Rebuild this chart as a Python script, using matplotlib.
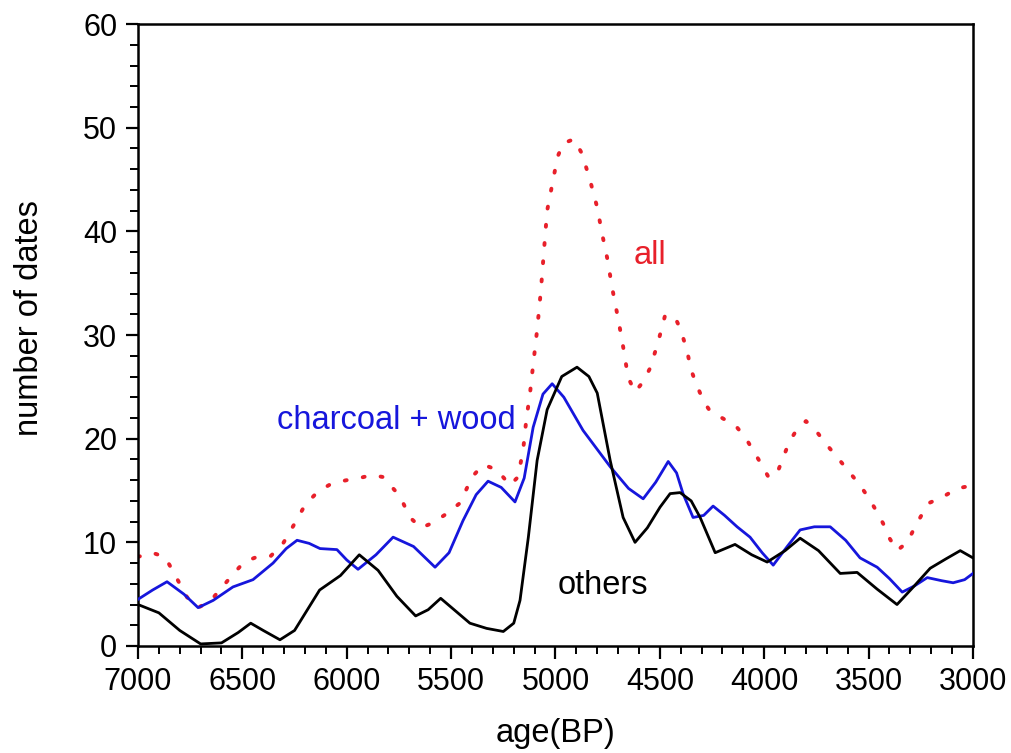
import matplotlib
matplotlib.use("Agg")
import matplotlib.pyplot as plt
from matplotlib.ticker import MultipleLocator

plt.rcParams['font.family'] = ['Liberation Sans', 'DejaVu Sans']

# ---- data ----
others_age = [7000, 6900, 6800, 6700, 6600, 6520, 6460, 6400, 6320, 6250, 6130, 6030, 5940,
              5850, 5760, 5670, 5610, 5550, 5480, 5410, 5330, 5250, 5200, 5170, 5130, 5088,
              5040, 4970, 4897, 4840, 4800, 4738, 4676, 4619, 4560, 4499, 4451, 4403, 4350,
              4307, 4235, 4140, 4060, 3986, 3900, 3828, 3740, 3636, 3555, 3460, 3364, 3290,
              3205, 3130, 3061, 3000]
others_val = [4.0, 3.2, 1.5, 0.2, 0.3, 1.3, 2.2, 1.5, 0.6, 1.5, 5.4, 6.8, 8.8,
              7.3, 4.8, 2.9, 3.5, 4.6, 3.4, 2.2, 1.7, 1.4, 2.2, 4.4, 10.5, 17.9,
              22.8, 26.0, 26.9, 26.0, 24.4, 17.9, 12.4, 10.0, 11.4, 13.4, 14.7, 14.8, 14.0,
              12.4, 9.0, 9.8, 8.8, 8.1, 9.2, 10.4, 9.2, 7.0, 7.1, 5.5, 4.0, 5.6,
              7.5, 8.4, 9.2, 8.5]

charcoal_age = [7000, 6930, 6861, 6780, 6712, 6640, 6545, 6449, 6353, 6290, 6238, 6180, 6128,
                6047, 6000, 5946, 5860, 5778, 5680, 5577, 5510, 5443, 5380, 5323, 5260, 5194,
                5150, 5107, 5060, 5016, 4960, 4868, 4738, 4650, 4580, 4520, 4460, 4420, 4389,
                4341, 4290, 4245, 4190, 4130, 4068, 4010, 3957, 3890, 3828, 3760, 3684, 3610,
                3541, 3459, 3400, 3339, 3280, 3219, 3150, 3095, 3040, 3000]
charcoal_val = [4.5, 5.4, 6.2, 5.0, 3.7, 4.4, 5.7, 6.4, 8.0, 9.4, 10.2, 9.9, 9.4,
                9.3, 8.3, 7.4, 8.8, 10.5, 9.6, 7.6, 9.0, 12.1, 14.6, 15.9, 15.3, 13.9,
                16.2, 21.1, 24.3, 25.3, 24.0, 20.8, 17.3, 15.2, 14.2, 15.8, 17.8, 16.7, 14.7,
                12.4, 12.6, 13.5, 12.6, 11.5, 10.5, 9.0, 7.8, 9.6, 11.2, 11.5, 11.5, 10.2,
                8.5, 7.6, 6.5, 5.2, 5.8, 6.6, 6.3, 6.1, 6.4, 7.0]

all_age = [7000, 6933, 6871, 6832, 6800, 6765, 6712, 6655, 6600, 6550, 6492, 6430, 6363,
           6305, 6270, 6233, 6200, 6138, 6070, 6000, 5940, 5879, 5826, 5769, 5730, 5697,
           5644, 5586, 5519, 5457, 5400, 5347, 5280, 5218, 5180, 5155, 5140, 5122, 5110,
           5088, 5070, 5055, 5040, 5015, 4990, 4963, 4911, 4873, 4834, 4800, 4777, 4750,
           4729, 4705, 4681, 4652, 4619, 4580, 4547, 4510, 4475, 4427, 4400, 4370, 4350,
           4320, 4290, 4264, 4202, 4135, 4090, 4048, 4010, 3977, 3930, 3880, 3840, 3800,
           3746, 3700, 3646, 3593, 3541, 3500, 3459, 3430, 3400, 3364, 3315, 3280, 3250,
           3210, 3143, 3076, 3000]
all_val = [8.6, 9.0, 8.6, 7.2, 6.0, 4.7, 3.7, 4.3, 5.6, 6.8, 8.1, 8.6, 8.7,
           9.9, 11.1, 12.4, 13.6, 14.9, 15.7, 16.0, 16.2, 16.5, 16.3, 15.0, 13.8, 12.4,
           11.4, 11.9, 12.8, 13.8, 16.3, 17.5, 17.0, 15.5, 16.3, 18.9, 21.8, 24.4, 26.6,
           30.5, 34.3, 38.2, 42.0, 44.6, 47.2, 48.5, 48.9, 47.5, 44.9, 42.3, 39.8, 37.2,
           34.6, 32.1, 29.5, 25.9, 24.5, 25.5, 26.8, 29.2, 31.9, 31.7, 30.5, 28.5, 26.6,
           25.0, 23.6, 22.8, 22.0, 21.2, 20.1, 18.7, 17.4, 16.2, 17.1, 19.7, 21.0, 21.7,
           20.6, 19.4, 18.1, 16.8, 15.5, 14.3, 12.9, 11.8, 10.4, 9.2, 10.0, 11.4, 12.5,
           13.8, 14.4, 15.2, 15.5]

x_ticks = [7000, 6500, 6000, 5500, 5000, 4500, 4000, 3500, 3000]
y_ticks = [0, 10, 20, 30, 40, 50, 60]

# ---- figure ----
fig = plt.figure(figsize=(10.11, 7.53), dpi=100)
ax = fig.add_axes([0.1365, 0.1421, 0.9624 - 0.1365, 0.968 - 0.1421])

ax.plot(all_age, all_val, color='#e8202a', linewidth=2.8,
        linestyle=(0, (0.5, 4.2)), dash_capstyle='round', zorder=2)
ax.plot(charcoal_age, charcoal_val, color='#1616dc', linewidth=2.0,
        solid_joinstyle='round', zorder=3)
ax.plot(others_age, others_val, color='black', linewidth=2.0,
        solid_joinstyle='round', zorder=4)

ax.set_xlim(7000, 3000)
ax.set_ylim(0, 60)
ax.set_xticks(x_ticks)
ax.set_yticks(y_ticks)
ax.xaxis.set_minor_locator(MultipleLocator(100))
ax.yaxis.set_minor_locator(MultipleLocator(2))

for s in ax.spines.values():
    s.set_linewidth(1.8)

ax.tick_params(which='major', direction='out', length=9, width=1.6, labelsize=22, pad=6,
               top=False, right=False)
ax.tick_params(which='minor', direction='out', length=5.5, width=1.4, top=False, right=False)

ax.set_xlabel('age(BP)', fontsize=23.5)
ax.set_ylabel('number of dates', fontsize=23.5)
ax.xaxis.set_label_coords(0.5, -0.116)
ax.yaxis.set_label_coords(-0.111, 0.527)

ax.text(6334, 20.9, 'charcoal + wood', color='#1616dc', fontsize=23.5, ha='left', va='baseline')
ax.text(4988, 5.0, 'others', color='black', fontsize=23.5, ha='left', va='baseline')
ax.text(4628, 36.9, 'all', color='#e8202a', fontsize=23.5, ha='left', va='baseline')

fig.savefig('out.png', dpi=100)
